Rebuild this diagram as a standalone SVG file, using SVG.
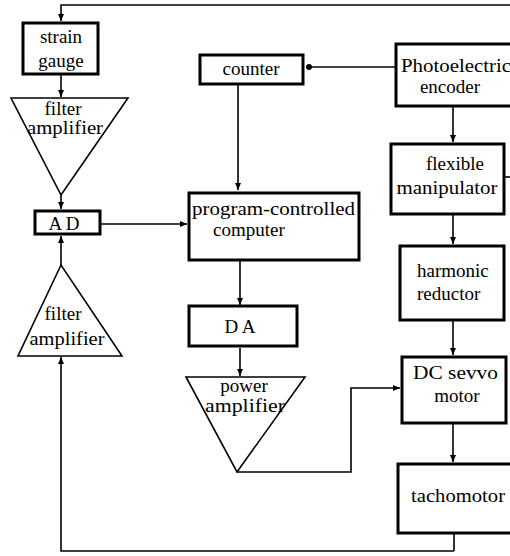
<svg xmlns="http://www.w3.org/2000/svg" width="510" height="556" viewBox="0 0 510 556">
<defs>
<marker id="ah" markerWidth="8" markerHeight="8" refX="7" refY="4" orient="auto" markerUnits="userSpaceOnUse">
<path d="M0,1 L7,4 L0,7 Z" fill="#000"/>
</marker>
<marker id="dot" markerWidth="8" markerHeight="8" refX="5" refY="4" orient="auto" markerUnits="userSpaceOnUse">
<circle cx="4" cy="4" r="3" fill="#000"/>
</marker>
<style>
.box{fill:#fff;stroke:#000;stroke-width:3}
.tri{fill:#fff;stroke:#000;stroke-width:1.6}
.c{fill:none;stroke:#000;stroke-width:1.6}
.ca{fill:none;stroke:#000;stroke-width:1.6;marker-end:url(#ah)}
.t{font-size:19px;fill:#000}
.m{text-anchor:middle}
</style>
</defs>
<rect width="510" height="556" fill="#fff"/>
<g id="connectors">
<path class="ca" d="M512,5 H61 V21"/>
<path class="c" d="M504,177 H512"/>
<path class="ca" d="M61,75 V97"/>
<path class="ca" d="M61,195 V209"/>
<path class="ca" d="M61,265 V236"/>
<path class="ca" d="M454,551 H61 V357"/>
<path class="c" d="M454,533 V551"/>
<path class="ca" d="M101,224 H187"/>
<path class="c" d="M395,67 H308" marker-end="url(#dot)"/>
<path class="ca" d="M238,85 V190"/>
<path class="ca" d="M240,261 V305"/>
<path class="ca" d="M240,348 V376"/>
<path class="ca" d="M237,472 H351 V388 H400"/>
<path class="ca" d="M453,107 V142"/>
<path class="ca" d="M453,215 V244"/>
<path class="ca" d="M453,321 V355"/>
<path class="ca" d="M453,424 V462"/>
</g>
<g font-family="'Liberation Serif', 'Times New Roman', 'DejaVu Serif', serif">
<g id="strain-gauge"><rect class="box" x="23" y="23" width="75" height="51"/><text class="t m" x="61" y="43">strain</text><text class="t m" x="61" y="67">gauge</text></g>
<g id="filter-amplifier-top"><path class="tri" d="M11,98 H128 L61,195 Z"/><text class="t m" x="63" y="115">filter</text><text class="t m" x="65" y="134" textLength="76" lengthAdjust="spacingAndGlyphs">amplifier</text></g>
<g id="ad"><rect class="box" x="35" y="211" width="65" height="23"/><text class="t m" x="64" y="230">A D</text></g>
<g id="filter-amplifier-bottom"><path class="tri" d="M18,356 H122 L61,265 Z"/><text class="t m" x="63" y="320">filter</text><text class="t m" x="67" y="345" textLength="75" lengthAdjust="spacingAndGlyphs">amplifier</text></g>
<g id="counter"><rect class="box" x="200" y="55" width="103" height="29"/><text class="t m" x="251" y="75">counter</text></g>
<g id="computer"><rect class="box" x="189" y="193" width="170" height="67"/><text class="t" x="192" y="215" textLength="163" lengthAdjust="spacingAndGlyphs">program-controlled</text><text class="t" x="213" y="236">computer</text></g>
<g id="da"><rect class="box" x="189" y="306" width="108" height="40"/><text class="t m" x="240" y="333">D A</text></g>
<g id="power-amplifier"><path class="tri" d="M186,377 H305 L237,472 Z"/><text class="t m" x="244" y="392">power</text><text class="t m" x="245" y="412" textLength="80" lengthAdjust="spacingAndGlyphs">amplifier</text></g>
<g id="photoelectric-encoder"><rect class="box" x="396" y="44" width="118" height="62"/><text class="t" x="401" y="72" textLength="110" lengthAdjust="spacingAndGlyphs">Photoelectric</text><text class="t m" x="450" y="93">encoder</text></g>
<g id="flexible-manipulator"><rect class="box" x="391" y="144" width="113" height="70"/><text class="t m" x="455" y="170">flexible</text><text class="t m" x="447" y="194" textLength="101" lengthAdjust="spacingAndGlyphs">manipulator</text></g>
<g id="harmonic-reductor"><rect class="box" x="400" y="246" width="104" height="74"/><text class="t" x="417" y="277">harmonic</text><text class="t" x="417" y="300">reductor</text></g>
<g id="dc-servo-motor"><rect class="box" x="402" y="357" width="104" height="66"/><text class="t" x="413" y="379" textLength="85" lengthAdjust="spacingAndGlyphs">DC sevvo</text><text class="t m" x="457" y="402">motor</text></g>
<g id="tachomotor"><rect class="box" x="398" y="464" width="116" height="69"/><text class="t" x="411" y="502" textLength="94" lengthAdjust="spacingAndGlyphs">tachomotor</text></g>
</g>
</svg>
